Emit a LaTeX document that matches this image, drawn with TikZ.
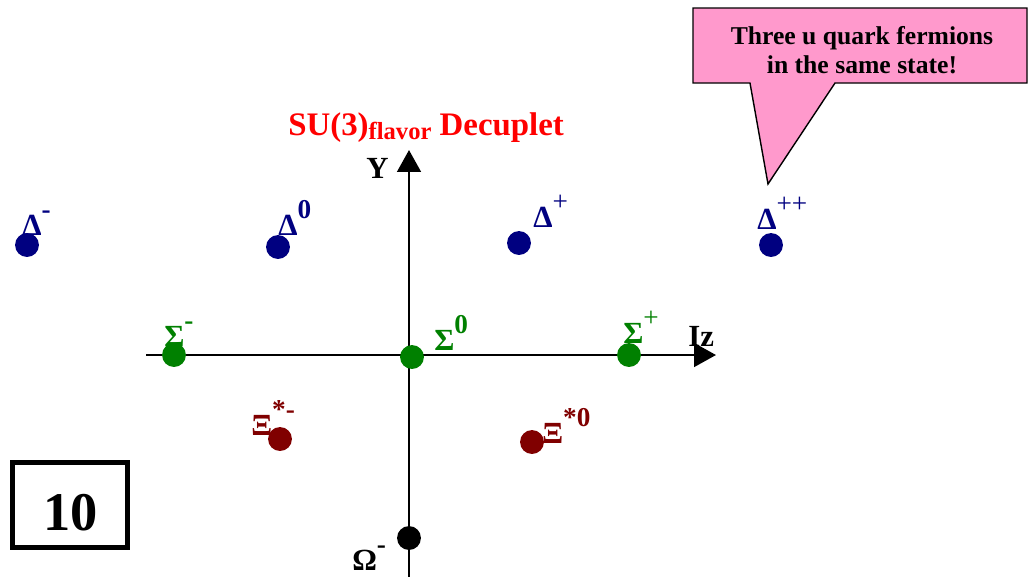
\documentclass[tikz,border=0pt]{standalone}
\usepackage{fontspec}
\setmainfont{Liberation Serif}
\usetikzlibrary{arrows.meta}
\definecolor{DeltaBlue}{RGB}{0,0,128}
\definecolor{SigmaGreen}{RGB}{0,128,0}
\definecolor{XiRed}{RGB}{128,0,0}
\definecolor{NotePink}{RGB}{255,153,204}
\newcommand{\ptl}[2]{#1\raisebox{0.55em}{\fontsize{15.5}{15.5}\selectfont #2}}

\begin{document}
\begin{tikzpicture}[x=0.02cm, y=-0.02cm,
	dot/.style={circle, fill=#1, inner sep=0pt, minimum size=13.6pt},
	lab/.style={anchor=base west, inner sep=0pt, text=#1, font=\fontsize{17.5}{20}\selectfont\bfseries},
	axis/.style={line width=1.4pt, -{Triangle[length=12.5pt, width=13.5pt]}}]
	\useasboundingbox (0,0) rectangle (1029,576);
	\clip (0,0) rectangle (1029,576);
	
	% Achsen Y und Iz
	\coordinate (ybot) at (409,585);
	\coordinate (ytop) at (409,150);
	\coordinate (xl) at (146,355);
	\coordinate (xr) at (716,355);
	\draw[axis] (ybot) -- (ytop);
	\draw[axis] (xl) -- (xr);
	\node[lab=black] (ylab) at (366,178) {Y};
	\node[lab=black] (xlab) at (688,346) {Iz};
	
	% Titel
	\node[lab=red, font=\fontsize{18.7}{20}\selectfont\bfseries] (title) at (288,135)
		{SU(3)\raisebox{-2.5pt}{\fontsize{14}{14}\selectfont flavor} Decuplet};
	
	% Sprechblase
	\draw[fill=NotePink, line width=0.8pt] (693,8) -- (1027,8) -- (1027,83) -- (835,83)
		-- (768,184) -- (750,83) -- (693,83) -- cycle;
	\node[align=center, inner sep=0pt, font=\fontsize{14.6}{16.5}\selectfont\bfseries] (note) at (862,50)
		{Three u quark fermions\\in the same state!};
	
	% Kasten 10
	\node[draw, line width=2.8pt, minimum width=65.5pt, minimum height=48.4pt] (ten) at (70,505) {};
	\node[font=\fontsize{31}{31}\selectfont\bfseries, inner sep=0pt] (tenlab) at (71,513) {10};
	
	% Delta
	\node[lab=DeltaBlue] (ldm) at (22,235) {\ptl{Δ}{-}};
	\node[lab=DeltaBlue] (ldz) at (278,235) {\ptl{Δ}{0}};
	\node[lab=DeltaBlue] (ldp) at (533,227) {\ptl{Δ}{\mdseries +}};
	\node[lab=DeltaBlue] (ldpp) at (757,229) {\ptl{Δ}{\mdseries ++}};
	\node[dot=DeltaBlue] (dm) at (27,245) {};
	\node[dot=DeltaBlue] (dz) at (278,247) {};
	\node[dot=DeltaBlue] (dp) at (519,243) {};
	\node[dot=DeltaBlue] (dpp) at (771,245) {};
	
	% Sigma
	\node[lab=SigmaGreen] (lsm) at (164,346) {\ptl{Σ}{-}};
	\node[lab=SigmaGreen] (lsz) at (434,350) {\ptl{Σ}{0}};
	\node[lab=SigmaGreen] (lsp) at (623,343) {\ptl{Σ}{\mdseries +}};
	\node[dot=SigmaGreen] (sm) at (174,355) {};
	\node[dot=SigmaGreen] (sz) at (412,357) {};
	\node[dot=SigmaGreen] (sp) at (629,355) {};
	
	% Xi
	\node[lab=XiRed] (lxm) at (251,435) {\ptl{Ξ}{*-}};
	\node[lab=XiRed] (lxz) at (542,443) {\ptl{Ξ}{*0}};
	\node[dot=XiRed] (xm) at (280,439) {};
	\node[dot=XiRed] (xz) at (532,442) {};
	
	% Omega
	\node[lab=black] (lom) at (352,570) {\ptl{Ω}{-}};
	\node[dot=black] (om) at (409,538) {};
\end{tikzpicture}
\end{document}
